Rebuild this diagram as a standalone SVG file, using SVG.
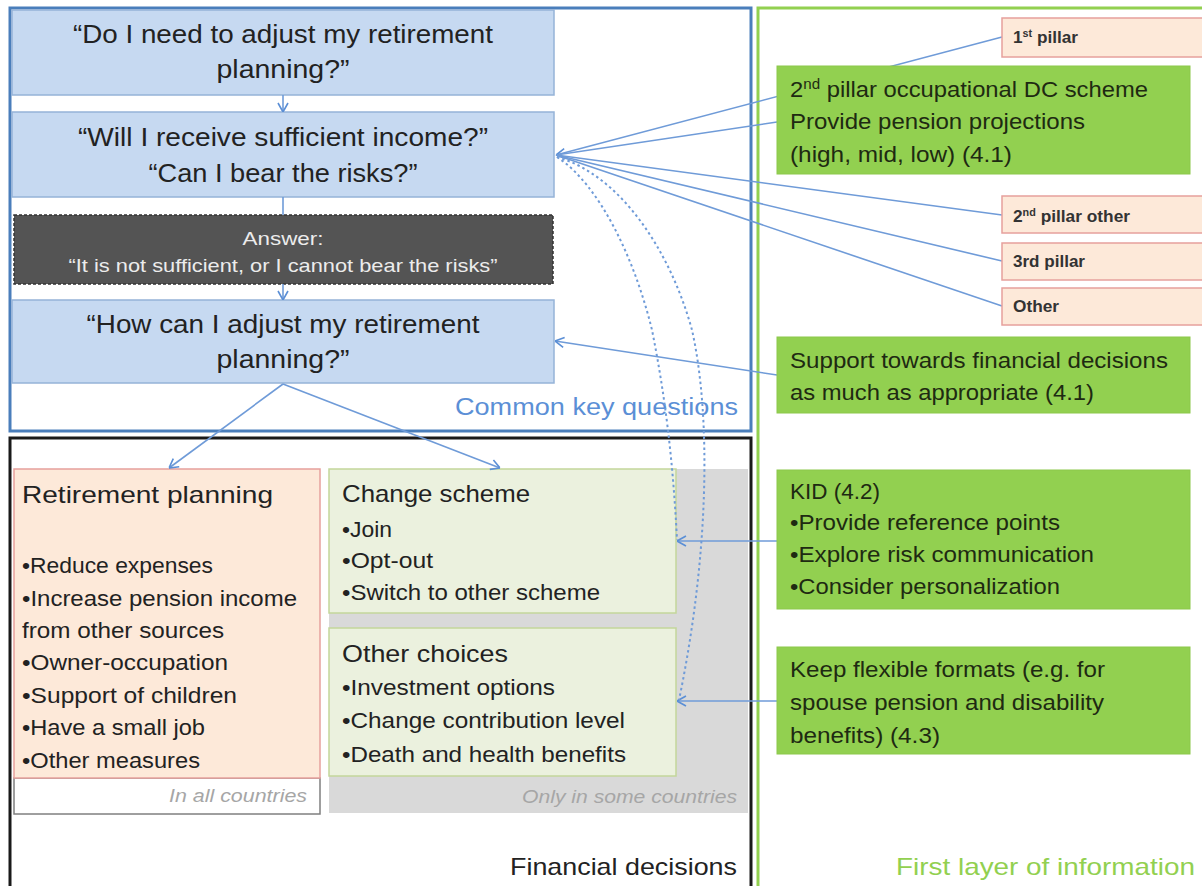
<svg xmlns="http://www.w3.org/2000/svg" width="1202" height="886" viewBox="0 0 1202 886">
<defs>
<marker id="ah" viewBox="0 0 10 12" refX="10" refY="6" markerWidth="10" markerHeight="12" markerUnits="userSpaceOnUse" orient="auto">
<path d="M1,1 L10,6 L1,11" fill="none" stroke="#5b8fd6" stroke-width="1.6"/>
</marker>
</defs>
<style>
text{font-family:"Liberation Sans",Arial,sans-serif;fill:#222}
.q{fill:#c6d9f1;stroke:#95b3d7;stroke-width:1.5}
.qt{font-size:25px;text-anchor:middle}
.peach{fill:#fde9d9;stroke:#e6a09c;stroke-width:1.5}
.lg{fill:#ebf1de;stroke:#c3d69b;stroke-width:1.5}
.gr{fill:#92d050;stroke:#8cc84b;stroke-width:1}
.h{font-size:24px}
.b{font-size:22px}
.gt{font-size:22px;fill:#1e2a12}
.sm{font-size:16px;font-weight:bold;fill:#333}
.it{font-size:19px;font-style:italic;fill:#a6a6a6;text-anchor:end}
.con{fill:none;stroke:#6f9bd8;stroke-width:1.6}
.dot{fill:none;stroke:#6f9bd8;stroke-width:2;stroke-dasharray:2.5 3}
</style>

<g id="frame-common">
<rect x="10" y="8" width="741" height="423" fill="none" stroke="#4a7ebb" stroke-width="3"/>
<text x="738" y="415" font-size="23" style="fill:#5b8fd6" text-anchor="end" textLength="283" lengthAdjust="spacingAndGlyphs">Common key questions</text>
</g>
<g id="frame-financial">
<rect x="10" y="438" width="741" height="470" fill="none" stroke="#1a1a1a" stroke-width="3"/>
<text x="737" y="875" class="h" text-anchor="end" textLength="227" lengthAdjust="spacingAndGlyphs">Financial decisions</text>
</g>
<g id="frame-first-layer">
<rect x="758" y="8" width="460" height="900" fill="none" stroke="#92d050" stroke-width="3"/>
<text x="1195" y="875" class="h" style="fill:#92d050" text-anchor="end" textLength="299" lengthAdjust="spacingAndGlyphs">First layer of information</text>
</g>

<g id="q1">
<rect class="q" x="12" y="10" width="542" height="85"/>
<text class="qt" x="283" y="43" textLength="420" lengthAdjust="spacingAndGlyphs">“Do I need to adjust my retirement</text>
<text class="qt" x="283" y="78" textLength="133" lengthAdjust="spacingAndGlyphs">planning?”</text>
</g>
<g id="q2">
<rect class="q" x="12" y="112" width="542" height="85"/>
<text class="qt" x="283" y="146" textLength="410" lengthAdjust="spacingAndGlyphs">“Will I receive sufficient income?”</text>
<text class="qt" x="283" y="182" textLength="269" lengthAdjust="spacingAndGlyphs">“Can I bear the risks?”</text>
</g>
<g id="answer">
<rect x="14" y="215" width="539" height="69" fill="#545454" stroke="#333" stroke-width="1.5" stroke-dasharray="3 2"/>
<text x="283" y="245" font-size="19" style="fill:#ececec" text-anchor="middle" textLength="81" lengthAdjust="spacingAndGlyphs">Answer:</text>
<text x="283" y="272" font-size="19" style="fill:#ececec" text-anchor="middle" textLength="429" lengthAdjust="spacingAndGlyphs">“It is not sufficient, or I cannot bear the risks”</text>
</g>
<g id="q3">
<rect class="q" x="12" y="300" width="542" height="83"/>
<text class="qt" x="283" y="333" textLength="393" lengthAdjust="spacingAndGlyphs">“How can I adjust my retirement</text>
<text class="qt" x="283" y="368" textLength="133" lengthAdjust="spacingAndGlyphs">planning?”</text>
</g>

<g id="retirement-planning">
<rect x="14" y="778" width="306" height="36" fill="#fff" stroke="#7f7f7f" stroke-width="1.5"/>
<rect class="peach" x="14" y="469" width="306" height="309"/>
<text class="h" x="22" y="503" textLength="251" lengthAdjust="spacingAndGlyphs">Retirement planning</text>
<text class="b" x="22" y="573" textLength="191" lengthAdjust="spacingAndGlyphs">•Reduce expenses</text>
<text class="b" x="22" y="606" textLength="275" lengthAdjust="spacingAndGlyphs">•Increase pension income</text>
<text class="b" x="22" y="638" textLength="202" lengthAdjust="spacingAndGlyphs">from other sources</text>
<text class="b" x="22" y="670" textLength="206" lengthAdjust="spacingAndGlyphs">•Owner-occupation</text>
<text class="b" x="22" y="703" textLength="215" lengthAdjust="spacingAndGlyphs">•Support of children</text>
<text class="b" x="22" y="735" textLength="183" lengthAdjust="spacingAndGlyphs">•Have a small job</text>
<text class="b" x="22" y="768" textLength="178" lengthAdjust="spacingAndGlyphs">•Other measures</text>
<text class="it" x="307" y="802" textLength="138" lengthAdjust="spacingAndGlyphs">In all countries</text>
</g>

<g id="some-countries">
<rect x="329" y="469" width="419" height="344" fill="#d9d9d9"/>
<text class="it" x="737" y="803" textLength="215" lengthAdjust="spacingAndGlyphs">Only in some countries</text>
</g>
<g id="change-scheme">
<rect class="lg" x="329" y="469" width="347" height="144"/>
<text class="h" x="342" y="502" textLength="188" lengthAdjust="spacingAndGlyphs">Change scheme</text>
<text class="b" x="342" y="537" textLength="50" lengthAdjust="spacingAndGlyphs">•Join</text>
<text class="b" x="342" y="568" textLength="91" lengthAdjust="spacingAndGlyphs">•Opt-out</text>
<text class="b" x="342" y="600" textLength="258" lengthAdjust="spacingAndGlyphs">•Switch to other scheme</text>
</g>
<g id="other-choices">
<rect class="lg" x="329" y="628" width="347" height="148"/>
<text class="h" x="342" y="662" textLength="166" lengthAdjust="spacingAndGlyphs">Other choices</text>
<text class="b" x="342" y="695" textLength="213" lengthAdjust="spacingAndGlyphs">•Investment options</text>
<text class="b" x="342" y="728" textLength="283" lengthAdjust="spacingAndGlyphs">•Change contribution level</text>
<text class="b" x="342" y="762" textLength="284" lengthAdjust="spacingAndGlyphs">•Death and health benefits</text>
</g>

<g id="connectors">
<line class="con" x1="283" y1="95" x2="283" y2="112" marker-end="url(#ah)"/>
<line class="con" x1="283" y1="197" x2="283" y2="215"/>
<line class="con" x1="283" y1="284" x2="283" y2="300" marker-end="url(#ah)"/>
<line class="con" x1="283" y1="384" x2="169" y2="468" marker-end="url(#ah)"/>
<line class="con" x1="283" y1="384" x2="500" y2="468" marker-end="url(#ah)"/>
<line class="con" x1="1002" y1="37" x2="556" y2="155"/>
<line class="con" x1="777" y1="122" x2="556" y2="155" marker-end="url(#ah)"/>
<line class="con" x1="1002" y1="215" x2="556" y2="155"/>
<line class="con" x1="1002" y1="261" x2="556" y2="155"/>
<line class="con" x1="1002" y1="306" x2="556" y2="155"/>
<line class="con" x1="777" y1="375" x2="555" y2="341" marker-end="url(#ah)"/>
<line class="con" x1="777" y1="541" x2="677" y2="541" marker-end="url(#ah)"/>
<line class="con" x1="777" y1="701" x2="677" y2="701" marker-end="url(#ah)"/>
<path class="dot" d="M557,157 C600,185 635,260 652,330 C665,395 673,460 677,540"/>
<path class="dot" d="M557,157 C620,175 670,250 692,330 C712,420 708,560 679,700"/>
</g>

<g id="first-pillar">
<rect class="peach" x="1002" y="18" width="215" height="39"/>
<text class="sm" x="1013" y="43" textLength="65" lengthAdjust="spacingAndGlyphs">1<tspan font-size="10" dy="-6">st</tspan><tspan dy="6"> pillar</tspan></text>
</g>
<g id="second-pillar-dc">
<rect class="gr" x="777" y="66" width="413" height="108"/>
<text class="gt" x="790" y="97" textLength="358" lengthAdjust="spacingAndGlyphs">2<tspan font-size="14" dy="-8">nd</tspan><tspan dy="8"> pillar occupational DC scheme</tspan></text>
<text class="gt" x="790" y="129" textLength="295" lengthAdjust="spacingAndGlyphs">Provide pension projections</text>
<text class="gt" x="790" y="162" textLength="222" lengthAdjust="spacingAndGlyphs">(high, mid, low) (4.1)</text>
</g>
<g id="second-pillar-other">
<rect class="peach" x="1002" y="196" width="215" height="37"/>
<text class="sm" x="1013" y="222" textLength="117" lengthAdjust="spacingAndGlyphs">2<tspan font-size="10" dy="-6">nd</tspan><tspan dy="6"> pillar other</tspan></text>
</g>
<g id="third-pillar">
<rect class="peach" x="1002" y="243" width="215" height="37"/>
<text class="sm" x="1013" y="267" textLength="72" lengthAdjust="spacingAndGlyphs">3rd pillar</text>
</g>
<g id="other">
<rect class="peach" x="1002" y="288" width="215" height="37"/>
<text class="sm" x="1013" y="312" textLength="46" lengthAdjust="spacingAndGlyphs">Other</text>
</g>
<g id="support">
<rect class="gr" x="777" y="337" width="413" height="76"/>
<text class="gt" x="790" y="368" textLength="378" lengthAdjust="spacingAndGlyphs">Support towards financial decisions</text>
<text class="gt" x="790" y="400" textLength="304" lengthAdjust="spacingAndGlyphs">as much as appropriate (4.1)</text>
</g>
<g id="kid">
<rect class="gr" x="777" y="470" width="413" height="139"/>
<text class="gt" x="790" y="499" textLength="90" lengthAdjust="spacingAndGlyphs">KID (4.2)</text>
<text class="gt" x="790" y="530" textLength="270" lengthAdjust="spacingAndGlyphs">•Provide reference  points</text>
<text class="gt" x="790" y="562" textLength="304" lengthAdjust="spacingAndGlyphs">•Explore risk communication</text>
<text class="gt" x="790" y="594" textLength="270" lengthAdjust="spacingAndGlyphs">•Consider personalization</text>
</g>
<g id="flexible">
<rect class="gr" x="777" y="647" width="413" height="107"/>
<text class="gt" x="790" y="677" textLength="315" lengthAdjust="spacingAndGlyphs">Keep flexible formats (e.g. for</text>
<text class="gt" x="790" y="710" textLength="314" lengthAdjust="spacingAndGlyphs">spouse pension and disability</text>
<text class="gt" x="790" y="743" textLength="150" lengthAdjust="spacingAndGlyphs">benefits) (4.3)</text>
</g>
</svg>
